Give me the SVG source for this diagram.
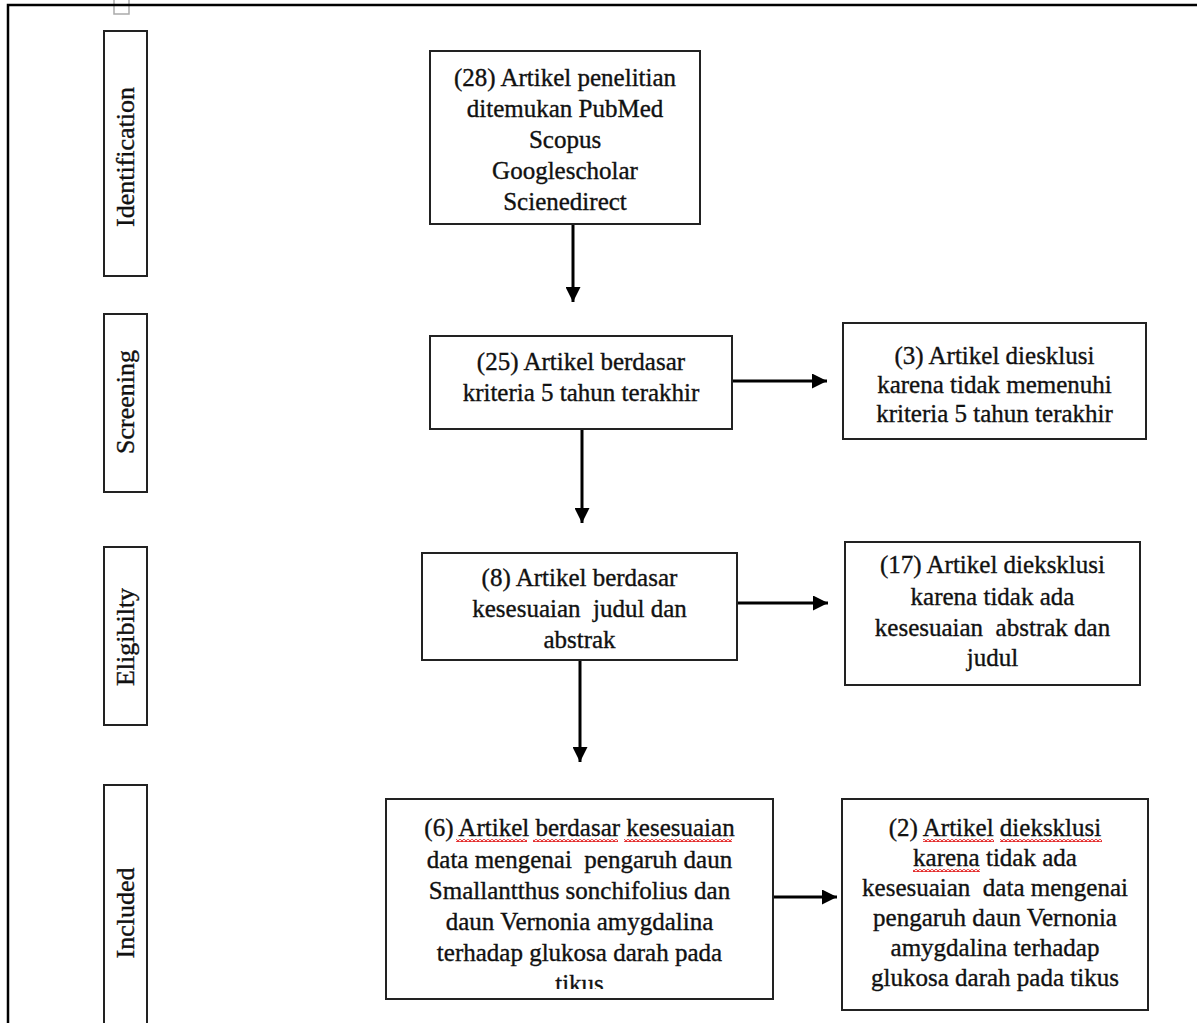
<svg xmlns="http://www.w3.org/2000/svg" width="1197" height="1023" viewBox="0 0 1197 1023">
<defs>
<style>
.box{fill:#fff;stroke:#222;stroke-width:2}
.t{font-size:25px;fill:#111;stroke:#111;stroke-width:0.35;text-anchor:middle}
.side{font-size:26px;fill:#111;stroke:#111;stroke-width:0.35;text-anchor:middle}
.ln{stroke:#000;stroke-width:3;fill:none}
.frame{stroke:#000;stroke-width:2.5;fill:none}
</style>
<marker id="ah" markerWidth="5" markerHeight="5" refX="5" refY="2.5" orient="auto" markerUnits="strokeWidth">
<path d="M0,0 L5,2.5 L0,5 Z" fill="#000"/>
</marker>
<pattern id="sq" width="4" height="3" patternUnits="userSpaceOnUse">
<path d="M0 2.5 L2 0.5 L4 2.5" fill="none" stroke="#e01010" stroke-width="1.2"/>
</pattern>
<clipPath id="clip6"><rect x="386" y="799" width="387" height="190"/></clipPath>
</defs>
<rect width="1197" height="1023" fill="#fff"/>
<g id="frame">
<rect x="114" y="-1" width="15" height="15" fill="none" stroke="#aaa" stroke-width="1.5"/>
<path class="frame" d="M8,1030 L8,5 L1200,5"/>
</g>
<g font-family="Liberation Serif, Times New Roman, Tinos, DejaVu Serif, serif">
<g id="stage-identification">
<rect class="box" x="104" y="31" width="43" height="245"/>
<text class="side" transform="translate(134,157) rotate(-90)">Identification</text>
</g>
<g id="stage-screening">
<rect class="box" x="104" y="314" width="43" height="178"/>
<text class="side" transform="translate(134,402) rotate(-90)">Screening</text>
</g>
<g id="stage-eligibility">
<rect class="box" x="104" y="547" width="43" height="178"/>
<text class="side" transform="translate(134,637) rotate(-90)">Eligibilty</text>
</g>
<g id="stage-included">
<rect class="box" x="104" y="785" width="43" height="250"/>
<text class="side" transform="translate(134,913) rotate(-90)">Included</text>
</g>
<g id="n1">
<rect class="box" x="430" y="51" width="270" height="173"/>
<text class="t" x="565" y="86">(28) Artikel penelitian</text>
<text class="t" x="565" y="117">ditemukan PubMed</text>
<text class="t" x="565" y="148">Scopus</text>
<text class="t" x="565" y="179">Googlescholar</text>
<text class="t" x="565" y="210">Scienedirect</text>
</g>
<g id="n2">
<rect class="box" x="430" y="336" width="302" height="93"/>
<text class="t" x="581" y="370">(25) Artikel berdasar</text>
<text class="t" x="581" y="401">kriteria 5 tahun terakhir</text>
</g>
<g id="n3">
<rect class="box" x="843" y="323" width="303" height="116"/>
<text class="t" x="994.5" y="364">(3) Artikel diesklusi</text>
<text class="t" x="994.5" y="393">karena tidak memenuhi</text>
<text class="t" x="994.5" y="422">kriteria 5 tahun terakhir</text>
</g>
<g id="n4">
<rect class="box" x="422" y="553" width="315" height="107"/>
<text class="t" x="579.5" y="586">(8) Artikel berdasar</text>
<text class="t" x="579.5" y="617" xml:space="preserve">kesesuaian  judul dan</text>
<text class="t" x="579.5" y="648">abstrak</text>
</g>
<g id="n5">
<rect class="box" x="845" y="542" width="295" height="143"/>
<text class="t" x="992.5" y="573">(17) Artikel dieksklusi</text>
<text class="t" x="992.5" y="605">karena tidak ada</text>
<text class="t" x="992.5" y="636" xml:space="preserve">kesesuaian  abstrak dan</text>
<text class="t" x="992.5" y="666">judul</text>
</g>
<g id="n6">
<rect class="box" x="386" y="799" width="387" height="200"/>
<g clip-path="url(#clip6)">
<text class="t" x="579.5" y="836">(6) Artikel berdasar kesesuaian</text>
<text class="t" x="579.5" y="867.5" xml:space="preserve">data mengenai  pengaruh daun</text>
<text class="t" x="579.5" y="899">Smallantthus sonchifolius dan</text>
<text class="t" x="579.5" y="930">daun Vernonia amygdalina</text>
<text class="t" x="579.5" y="961">terhadap glukosa darah pada</text>
<text class="t" x="579.5" y="992">tikus</text>
</g>
<rect x="456" y="839" width="71" height="3" fill="url(#sq)"/>
<rect x="533" y="839" width="85" height="3" fill="url(#sq)"/>
<rect x="624" y="839" width="108" height="3" fill="url(#sq)"/>
</g>
<g id="n7">
<rect class="box" x="842" y="799" width="306" height="211"/>
<text class="t" x="995" y="836">(2) Artikel dieksklusi</text>
<text class="t" x="995" y="866">karena tidak ada</text>
<text class="t" x="995" y="896" xml:space="preserve">kesesuaian  data mengenai</text>
<text class="t" x="995" y="926">pengaruh daun Vernonia</text>
<text class="t" x="995" y="956">amygdalina terhadap</text>
<text class="t" x="995" y="986">glukosa darah pada tikus</text>
<rect x="923" y="839" width="71" height="3" fill="url(#sq)"/>
<rect x="1000" y="839" width="102" height="3" fill="url(#sq)"/>
<rect x="913" y="869" width="67" height="3" fill="url(#sq)"/>
</g>
</g>
<g id="connectors">
<line class="ln" x1="573" y1="225" x2="573" y2="302" marker-end="url(#ah)"/>
<line class="ln" x1="582" y1="430" x2="582" y2="523" marker-end="url(#ah)"/>
<line class="ln" x1="733" y1="381" x2="827" y2="381" marker-end="url(#ah)"/>
<line class="ln" x1="580" y1="661" x2="580" y2="762" marker-end="url(#ah)"/>
<line class="ln" x1="738" y1="603" x2="828" y2="603" marker-end="url(#ah)"/>
<line class="ln" x1="774" y1="897" x2="837" y2="897" marker-end="url(#ah)"/>
</g>
</svg>
